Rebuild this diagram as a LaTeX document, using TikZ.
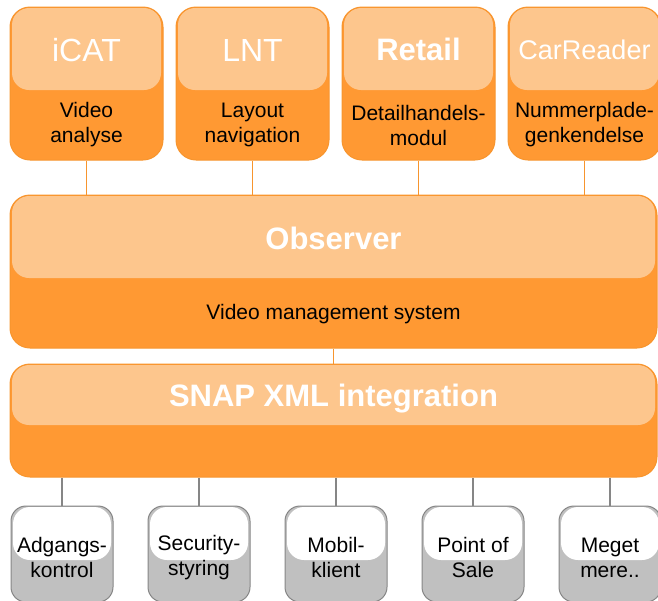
\documentclass[tikz,border=0pt]{standalone}
\usepackage{fontspec}
\setmainfont{Liberation Sans}
\usepackage{tikz}
\usetikzlibrary{positioning}
\definecolor{snapdark}{HTML}{FF9933}
\definecolor{snaplight}{HTML}{FDC68D}
\definecolor{snapline}{HTML}{F7952E}
\definecolor{clientgray}{HTML}{C0C0C0}
\definecolor{clientline}{HTML}{868686}
\tikzset{
  every picture/.style = {
    x = 1pt,
    y = 1pt,
    node distance = 34pt and 12pt,
  }
  ,
  shine/.style 2 args = {
    path picture = {
      \fill [#2, rounded corners = 17pt]
        ([shift={(2pt,-1pt)}]path picture bounding box.north west)
        rectangle ([shift={(-2pt,-#1)}]path picture bounding box.north east);
    }
  }
  ,
  panel/.style = {
    rectangle,
    rounded corners = 20pt,
    draw = snapline,
    fill = snapdark,
    line width = 1pt,
    inner sep = 0pt
  }
  , % modules on top
  app/.style = {
    panel,
    minimum width = 153pt,
    minimum height = 153pt,
    shine = {83pt}{snaplight}
  }
  ,
  layer/.style = {
    panel,
    minimum width = 647pt,
    minimum height = 153pt,
    shine = {83pt}{snaplight}
  }
  ,
  bus/.style = {
    panel,
    minimum width = 647pt,
    minimum height = 113pt,
    shine = {61pt}{snaplight}
  }
  , % systems at the bottom
  client/.style = {
    rectangle,
    rounded corners = 15pt,
    draw = clientline,
    fill = clientgray,
    line width = 1pt,
    minimum width = 102pt,
    minimum height = 96pt,
    shine = {54pt}{white}
  }
  ,
  label-title/.style = {
    anchor = base,
    text = white,
    font = \fontsize{32}{32}\selectfont
  }
  ,
  label-text/.style = {
    align = center,
    font = \fontsize{21}{25}\selectfont
  }
  ,
  link/.style = {
    draw = snapline,
    line width = 1.5pt
  }
  ,
  client-link/.style = {
    draw = clientline,
    line width = 1.5pt
  }
}

\begin{document}
\begin{tikzpicture}
  \useasboundingbox (0,0) rectangle (658,-600);

  \node [app] (icat) at (86.5,-83.5) {};
  \node [app, right = of icat] (lnt) {};
  \node [app, right = of lnt] (retail) {};
  \node [app, right = of retail] (carreader) {};
  \node [layer, below = 34pt of icat.south west, anchor = north west] (observer) {};
  \node [bus, below = 15pt of observer] (snap) {};

  \node [client, below = 28pt of snap.south west, anchor = north west, xshift = 1pt] (adgang) {};
  \node [client, right = 34pt of adgang] (security) {};
  \node [client, right = 34pt of security] (mobil) {};
  \node [client, right = 34pt of mobil] (pos) {};
  \node [client, right = 34pt of pos] (mere) {};

  % titles
  \node [label-title] at ([yshift=-55pt]icat.north) {iCAT};
  \node [label-title] at ([yshift=-55pt]lnt.north) {LNT};
  \node [label-title, font = \bfseries\fontsize{31}{31}\selectfont] at ([yshift=-54pt]retail.north) {Retail};
  \node [label-title, font = \fontsize{27}{27}\selectfont] at ([yshift=-53pt]carreader.north) {CarReader};
  \node [label-title, font = \bfseries\fontsize{31}{31}\selectfont] at ([yshift=-55pt]observer.north) {Observer};
  \node [label-title, font = \bfseries\fontsize{31}{31}\selectfont] at ([yshift=-43pt]snap.north) {SNAP XML integration};

  \node [label-text] at ([yshift=-118.5pt]icat.north) {Video\\analyse};
  \node [label-text] at ([yshift=-118.5pt]lnt.north) {Layout\\navigation};
  \node [label-text] at ([yshift=-118.5pt]retail.north) {Detailhandels-\\modul};
  \node [label-text] at ([yshift=-118.5pt]carreader.north) {Nummerplade-\\genkendelse};
  \node [label-text, anchor = base] at ([yshift=-125pt]observer.north) {Video management system};

  \node [label-text] at ([yshift=-52pt]adgang.north) {Adgangs-\\kontrol};
  \node [label-text] at ([yshift=-52pt]security.north) {Security-\\styring};
  \node [label-text] at ([yshift=-52pt]mobil.north) {Mobil-\\klient};
  \node [label-text] at ([yshift=-52pt]pos.north) {Point of\\Sale};
  \node [label-text] at ([yshift=-52pt]mere.north) {Meget\\mere..};

  \path [link] (icat) edge (icat |- observer.north)
               (lnt) edge (lnt |- observer.north)
               (retail) edge (retail |- observer.north)
               (carreader) edge (carreader |- observer.north)
               (observer) edge (snap);

  \path [client-link] (adgang) edge (adgang |- snap.south)
                      (security) edge (security |- snap.south)
                      (mobil) edge (mobil |- snap.south)
                      (pos) edge (pos |- snap.south)
                      (mere) edge (mere |- snap.south);
\end{tikzpicture}
\end{document}
